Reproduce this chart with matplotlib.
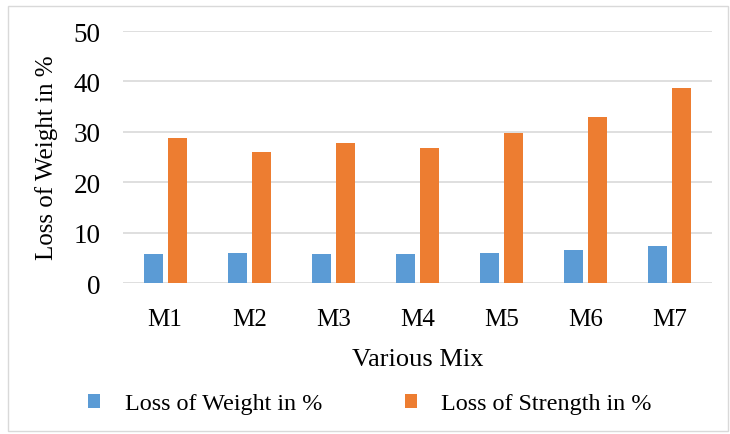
import matplotlib
matplotlib.use("Agg")
import matplotlib.pyplot as plt
import numpy as np
from matplotlib.patches import Rectangle

categories = ["M1", "M2", "M3", "M4", "M5", "M6", "M7"]
loss_weight = [5.8, 5.9, 5.7, 5.8, 6.0, 6.55, 7.3]
loss_strength = [28.8, 25.9, 27.7, 26.7, 29.8, 32.85, 38.7]
yticks = [0, 10, 20, 30, 40, 50]

plt.rcParams['font.family'] = ['Liberation Serif', 'DejaVu Serif']

fig = plt.figure(figsize=(7.3, 4.35), dpi=100)
ax = fig.add_axes([123/730, 1 - 284/435, (712 - 123)/730, (284 - 32)/435])

x = np.arange(len(categories))
w = 0.226
gap = 0.06
blue = "#5b9bd5"
orange = "#ed7d31"
ax.bar(x - (w + gap)/2, loss_weight, width=w, color=blue, label="Loss of Weight in %", zorder=3)
ax.bar(x + (w + gap)/2, loss_strength, width=w, color=orange, label="Loss of Strength in %", zorder=3)

ax.set_xlim(-0.5, len(categories) - 0.5)
ax.set_ylim(0, 50)
ax.set_yticks(yticks)
ax.set_xticks(x)
ax.set_xticklabels(categories)
ax.yaxis.grid(True, color="#d9d9d9", linewidth=1.2, zorder=0)
for s in ax.spines.values():
    s.set_visible(False)
ax.tick_params(axis='x', length=0, labelsize=18, pad=18)
ax.tick_params(axis='y', length=0, labelsize=19.5, pad=16)
ax.set_ylabel("Loss of Weight in %", fontsize=18, labelpad=11)
ax.set_xlabel("Various Mix", fontsize=19, labelpad=13)

leg = fig.legend(loc="center", bbox_to_anchor=(0.5 + 5/730, 1 - 405/435), ncol=2, frameon=False,
                 fontsize=17.4, handlelength=0.5, handleheight=0.5,
                 handletextpad=1.03, columnspacing=3.4)

fig.patches.append(Rectangle((8/730, 3/435), 720/730, 425/435, transform=fig.transFigure,
                             fill=False, edgecolor="#d9d9d9", linewidth=1))

fig.savefig("out.png", dpi=100)
